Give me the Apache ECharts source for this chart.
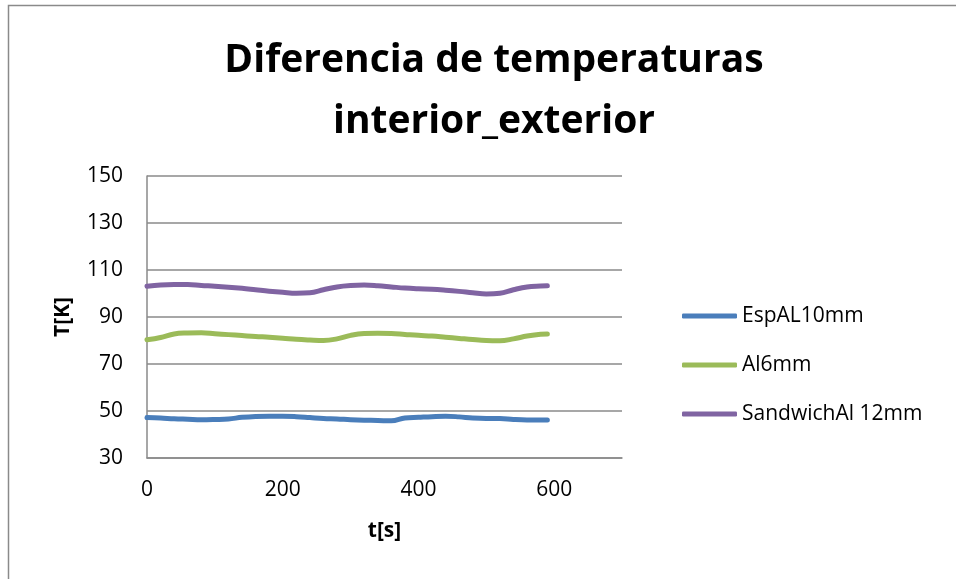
<!DOCTYPE html>
<html>
<head>
<meta charset="utf-8">
<script src="https://cdn.jsdelivr.net/npm/echarts@6/dist/echarts.min.js"></script>
<style>html,body{margin:0;padding:0;background:#fff}#c{width:956px;height:579px}</style>
</head>
<body>
<div id="c"></div>
<script>
const time = [0,20,40,60,80,100,120,140,160,180,200,220,240,260,280,300,320,340,360,380,400,420,440,460,480,500,520,540,560,580,590];
const espAL10mm = [47.2,47.0,46.7,46.5,46.3,46.4,46.6,47.3,47.7,47.8,47.8,47.6,47.2,46.8,46.6,46.3,46.1,46.0,45.8,47.0,47.3,47.6,47.8,47.5,47.0,46.8,46.8,46.4,46.2,46.2,46.2];
const al6mm = [80.3,81.3,82.8,83.2,83.3,82.9,82.5,82.1,81.7,81.4,81.0,80.5,80.2,80.0,80.7,82.2,83.0,83.1,83.0,82.6,82.2,81.9,81.4,80.9,80.4,80.0,79.9,80.7,81.9,82.7,82.8];
const sandwichAl12mm = [103.1,103.6,103.8,103.8,103.4,103.1,102.7,102.2,101.6,101.0,100.5,100.1,100.3,101.6,102.8,103.4,103.6,103.3,102.8,102.3,102.0,101.8,101.4,100.9,100.3,99.8,100.1,101.6,102.8,103.2,103.3];
const seriesNames = ['EspAL10mm','Al6mm','SandwichAl 12mm'];
const colors = ['#4A7EBB','#9BBB59','#8064A2'];

const font = '"Open Sans", "Noto Sans", sans-serif';
const pair = (ys) => time.map((t,i)=>[t, ys[i]]);
const chart = echarts.init(document.getElementById('c'), null, {renderer:'canvas'});
chart.setOption({
  animation:false,
  backgroundColor:'#fff',
  color: colors,
  graphic:[{type:'rect', shape:{x:8.5,y:5.5,width:1000,height:1000}, style:{fill:'none', stroke:'#8a8a8a', lineWidth:1.5}, silent:true}],
  title:{
    text:'Diferencia de temperaturas\ninterior_exterior',
    left:489, top:25, textAlign:'center',
    textStyle:{fontFamily:font, fontWeight:'bold', fontSize:39, lineHeight:61, color:'#000'}
  },
  legend:{
    orient:'vertical', left:682, top:304, padding:0,
    itemWidth:55, itemHeight:5, itemGap:25, icon:'roundRect',
    textStyle:{fontFamily:font, fontSize:21, color:'#000', lineHeight:24},
    data: seriesNames
  },
  grid:{left:147, right:334, top:176, bottom:121, containLabel:false},
  xAxis:{
    type:'value', min:0, max:700, interval:200,
    name:'t[s]', nameLocation:'middle', nameGap:63,
    nameTextStyle:{fontFamily:font, fontWeight:'bold', fontSize:21, color:'#000'},
    axisLine:{show:true, lineStyle:{color:'#8a8a8a', width:1.5}},
    axisTick:{show:false},
    splitLine:{show:false},
    axisLabel:{fontFamily:font, fontSize:21, color:'#000', margin:22, showMaxLabel:false,
      formatter:(v)=> v>650 ? '' : String(v)}
  },
  yAxis:{
    type:'value', min:30, max:150, interval:20,
    name:'T[K]', nameLocation:'middle', nameGap:73, nameRotate:90,
    nameTextStyle:{fontFamily:font, fontWeight:'bold', fontSize:21, color:'#000'},
    axisLine:{show:true, lineStyle:{color:'#8a8a8a', width:1.5}},
    axisTick:{show:false},
    splitLine:{show:true, lineStyle:{color:'#8a8a8a', width:1.5}},
    axisLabel:{fontFamily:font, fontSize:21, color:'#000', margin:24}
  },
  series:[
    {name:seriesNames[0], type:'line', data:pair(espAL10mm), smooth:0.4, symbol:'none', lineStyle:{width:5, cap:'round'}},
    {name:seriesNames[1], type:'line', data:pair(al6mm), smooth:0.4, symbol:'none', lineStyle:{width:5, cap:'round'}},
    {name:seriesNames[2], type:'line', data:pair(sandwichAl12mm), smooth:0.4, symbol:'none', lineStyle:{width:5, cap:'round'}}
  ]
});
</script>
</body>
</html>
